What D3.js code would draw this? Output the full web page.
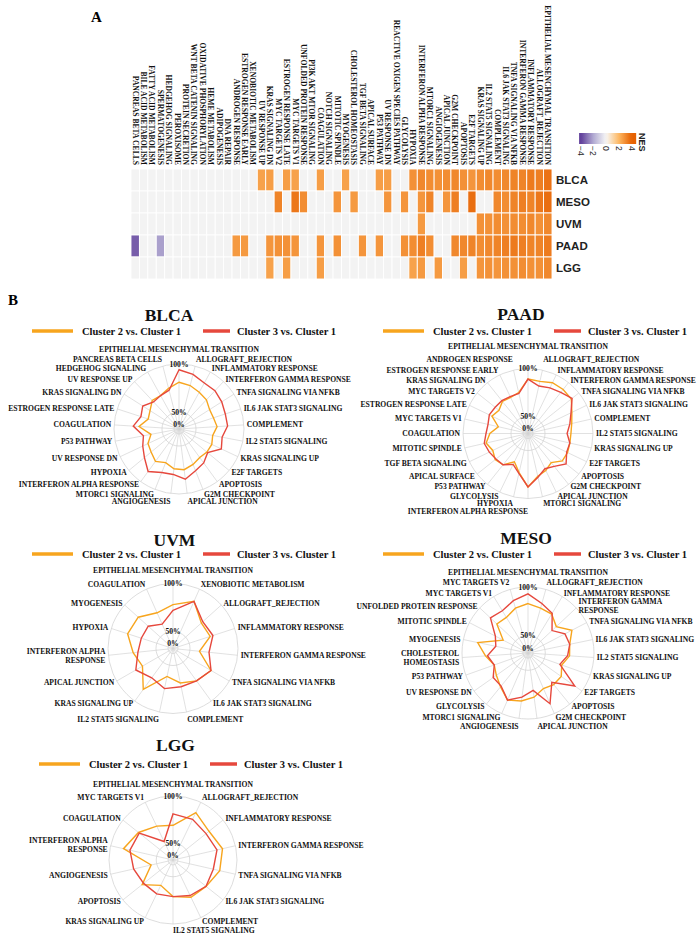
<!DOCTYPE html>
<html><head><meta charset="utf-8">
<script src="https://cdn.jsdelivr.net/npm/d3@7"></script>
<style>body{margin:0;background:#fff;} svg{display:block;}</style>
</head><body>
<svg id="chart" width="700" height="934"></svg>
<script>
// ---------------- DATA ----------------
const hallmarks = ["PANCREAS BETA CELLS","BILE ACID METABOLISM","FATTY ACID METABOLISM","SPERMATOGENESIS","HEDGEHOG SIGNALING","PEROXISOME","PROTEIN SECRETION","WNT BETA CATENIN SIGNALING","OXIDATIVE PHOSPHORYLATION","HEME METABOLISM","ADIPOGENESIS","DNA REPAIR","ANDROGEN RESPONSE","ESTROGEN RESPONSE EARLY","XENOBIOTIC METABOLISM","UV RESPONSE UP","KRAS SIGNALING DN","MYC TARGETS V2","ESTROGEN RESPONSE LATE","MYC TARGETS V1","UNFOLDED PROTEIN RESPONSE","PI3K AKT MTOR SIGNALING","COAGULATION","NOTCH SIGNALING","MITOTIC SPINDLE","MYOGENESIS","CHOLESTEROL HOMEOSTASIS","TGF BETA SIGNALING","APICAL SURFACE","P53 PATHWAY","UV RESPONSE DN","REACTIVE OXIGEN SPECIES PATHWAY","GLYCOLYSIS","HYPOXIA","INTERFERON ALPHA RESPONSE","MTORC1 SIGNALING","ANGIOGENESIS","APICAL JUNCTION","G2M CHECKPOINT","APOPTOSIS","E2F TARGETS","KRAS SIGNALING UP","IL2 STAT5 SIGNALING","COMPLEMENT","IL6 JAK STAT3 SIGNALING","TNFA SIGNALING VIA NFKB","INTERFERON GAMMA RESPONSE","INFLAMMATORY RESPONSE","ALLOGRAFT_REJECTION","EPITHELIAL MESENCHYMAL TRANSITION"];
const cancers = ["BLCA","MESO","UVM","PAAD","LGG"];
// NES per hallmark (0 = not significant, drawn grey)
const nesBLCA = [0,0,0,0,0, 0,0,0,0,0, 0,0,0,0,0, 2.5,2.6,0,2.6,2.5, 0,0,2.6,0,0, 2.5,0,0,0,2.6, 2.6,0,0,2.9,3.1, 3.0,2.9,3.0,3.1,2.9, 2.8,3.0,3.1,3.0,3.1, 3.2,3.2,3.4,3.3,3.6];
const nesMESO = [0,0,0,0,0, 0,0,0,0,0, 0,0,0,0,0, 0,0,3.2,0,3.5, 3.0,0,0,0,2.8, 0,2.7,0,0,0, 2.8,0,2.8,0,2.8, 3.2,0,2.8,3.3,0, 3.7,0,0,3.1,3.0, 3.2,3.3,3.2,3.5,3.7];
const nesUVM  = [0,0,0,0,0, 0,0,0,0,0, 0,0,0,0,0, 0,0,0,0,0, 0,0,0,0,0, 0,0,0,0,0, 0,0,0,0,2.7, 0,0,0,0,0, 0,2.9,2.9,3.0,2.9, 3.0,3.0,3.1,2.9,3.1];
const nesPAAD = [-3.4,0,0,-2.2,0, 0,0,0,0,0, 0,0,2.7,2.7,0, 0,2.8,2.9,2.9,2.8, 0,0,2.8,0,2.9, 0,0,2.8,0,2.8, 0,0,2.9,3.0,3.3, 3.0,0,0,3.1,3.1, 3.2,3.0,3.1,3.2,3.3, 3.4,3.3,3.2,3.2,3.4];
const nesLGG  = [0,0,0,0,0, 0,0,0,0,0, 0,0,0,0,0, 0,2.5,0,2.6,0, 0,0,2.6,0,0, 0,0,0,0,0, 0,0,0,2.5,2.7, 0,2.7,0,0,2.6, 0,2.8,2.9,2.8,2.9, 2.9,3.0,2.9,2.9,3.1];
const nesTicks = [-4,-2,0,2,4];

const gridVals = [0,50,100];
const gridLabels = ["0%","50%","100%"];
const seriesNames = ["Cluster 2 vs. Cluster 1","Cluster 3 vs. Cluster 1"];

const blcaAxes = ["EPITHELIAL MESENCHYMAL TRANSITION","ALLOGRAFT_REJECTION","INFLAMMATORY RESPONSE","INTERFERON GAMMA RESPONSE","TNFA SIGNALING VIA NFKB","IL6 JAK STAT3 SIGNALING","COMPLEMENT","IL2 STAT5 SIGNALING","KRAS SIGNALING UP","E2F TARGETS","APOPTOSIS","G2M CHECKPOINT","APICAL JUNCTION","ANGIOGENESIS","MTORC1 SIGNALING","INTERFERON ALPHA RESPONSE","HYPOXIA","UV RESPONSE DN","P53 PATHWAY","COAGULATION","ESTROGEN RESPONSE LATE","KRAS SIGNALING DN","UV RESPONSE UP","HEDGEHOG SIGNALING","PANCREAS BETA CELLS"];
const blcaC2 = [81,79,76,74,70,70,72,68,70,70,69,72,75,74,70,74,70,68,62,74,66,68,73,72,76];
const blcaC3 = [94,91,87,87,85,83,83,78,81,71,76,79,85,80,81,87,79,74,70,80,74,77,71,72,74];

const paadAxes = ["EPITHELIAL MESENCHYMAL TRANSITION","ALLOGRAFT_REJECTION","INFLAMMATORY RESPONSE","INTERFERON GAMMA RESPONSE","TNFA SIGNALING VIA NFKB","IL6 JAK STAT3 SIGNALING","COMPLEMENT","IL2 STAT5 SIGNALING","KRAS SIGNALING UP","E2F TARGETS","APOPTOSIS","G2M CHECKPOINT","APICAL JUNCTION","MTORC1 SIGNALING","INTERFERON ALPHA RESPONSE","HYPOXIA","GLYCOLYSIS","P53 PATHWAY","APICAL SURFACE","TGF BETA SIGNALING","MITOTIC SPINDLE","COAGULATION","MYC TARGETS V1","ESTROGEN RESPONSE LATE","MYC TARGETS V2","KRAS SIGNALING DN","ESTROGEN RESPONSE EARLY","ANDROGEN RESPONSE"];
const paadC2 = [89,88,91,91,90,83,79,77,77,78,78,71,75,78,88,74,65,74,76,73,77,72,64,74,71,75,74,76];
const paadC3 = [89,83,85,87,91,82,77,73,77,77,83,76,73,79,88,75,68,74,75,77,79,76,75,77,76,76,75,75];

const uvmAxes = ["EPITHELIAL MESENCHYMAL TRANSITION","XENOBIOTIC METABOLISM","ALLOGRAFT_REJECTION","INFLAMMATORY RESPONSE","INTERFERON GAMMA RESPONSE","TNFA SIGNALING VIA NFKB","IL6 JAK STAT3 SIGNALING","COMPLEMENT","IL2 STAT5 SIGNALING","KRAS SIGNALING UP","APICAL JUNCTION","INTERFERON ALPHA|RESPONSE","HYPOXIA","MYOGENESIS","COAGULATION"];
const uvmC2 = [78,86,72,73,60,78,74,69,62,85,69,74,82,81,73];
const uvmC3 = [72,86,74,76,70,78,74,73,75,70,77,69,67,67,60];

const mesoAxes = ["EPITHELIAL MESENCHYMAL TRANSITION","ALLOGRAFT_REJECTION","INFLAMMATORY RESPONSE","INTERFERON GAMMA|RESPONSE","TNFA SIGNALING VIA NFKB","IL6 JAK STAT3 SIGNALING","IL2 STAT5 SIGNALING","KRAS SIGNALING UP","E2F TARGETS","APOPTOSIS","G2M CHECKPOINT","APICAL JUNCTION","ANGIOGENESIS","MTORC1 SIGNALING","GLYCOLYSIS","UV RESPONSE DN","P53 PATHWAY","CHOLESTEROL|HOMEOSTASIS","MYOGENESIS","MITOTIC SPINDLE","UNFOLDED PROTEIN RESPONSE","MYC TARGETS V1","MYC TARGETS V2"];
const mesoC2 = [83,80,79,72,83,76,75,69,74,74,72,78,82,85,77,72,69,76,85,61,76,75,80];
const mesoC3 = [93,85,80,66,75,76,73,67,91,71,89,71,78,85,76,76,69,74,66,70,85,83,88];

const lggAxes = ["EPITHELIAL MESENCHYMAL TRANSITION","ALLOGRAFT_REJECTION","INFLAMMATORY RESPONSE","INTERFERON GAMMA RESPONSE","TNFA SIGNALING VIA NFKB","IL6 JAK STAT3 SIGNALING","COMPLEMENT","IL2 STAT5 SIGNALING","KRAS SIGNALING UP","APOPTOSIS","ANGIOGENESIS","INTERFERON ALPHA|RESPONSE","COAGULATION","MYC TARGETS V1"];
const lggC2 = [69,88,81,86,83,77,76,71,62,74,56,86,79,72];
const lggC3 = [81,80,77,80,76,77,74,71,72,72,75,79,78,54];

// ---------------- STYLE / LAYOUT ----------------
const serif = "'Liberation Serif','Times New Roman',serif";
const sans = "'Liberation Sans',Arial,sans-serif";
const nesColors = ["#5e3c99","#b2abd2","#f7f7f7","#fdb863","#e66101"];
const greyCell = "#f3f3f3";
const seriesColors = ["#F7A51E","#E6483D"];

const svg = d3.select("#chart");

// panel labels
svg.append("text").attr("x",91).attr("y",22).text("A")
  .attr("font-family",serif).attr("font-weight","bold").attr("font-size",15);
svg.append("text").attr("x",8).attr("y",305).text("B")
  .attr("font-family",serif).attr("font-weight","bold").attr("font-size",15);

// ---------------- HEATMAP ----------------
const nesRows = {BLCA:nesBLCA, MESO:nesMESO, UVM:nesUVM, PAAD:nesPAAD, LGG:nesLGG};
const hx = d3.scaleBand().domain(d3.range(hallmarks.length)).range([131,552]);
const hy = d3.scaleBand().domain(cancers).range([169,279]);
const nesColor = d3.scaleLinear().domain(nesTicks).range(nesColors).clamp(true);

const hm = svg.append("g");
cancers.forEach(c => {
  hm.append("g").selectAll("rect").data(nesRows[c]).join("rect")
    .attr("x",(d,i)=>hx(i)).attr("y",hy(c))
    .attr("width",hx.bandwidth()).attr("height",hy.bandwidth())
    .attr("fill",d=> d===0 ? greyCell : nesColor(d))
    .attr("stroke","#ffffff").attr("stroke-width",0.9);
});
hm.append("g").selectAll("text").data(hallmarks).join("text")
  .attr("transform",(d,i)=>`translate(${hx(i)+hx.bandwidth()/2},165) rotate(90)`)
  .attr("text-anchor","end").attr("dy","0.35em")
  .attr("font-family",serif).attr("font-weight","bold").attr("font-size",7.6)
  .attr("fill","#111").text(d=>d);
hm.append("g").selectAll("text").data(cancers).join("text")
  .attr("x",556).attr("y",d=>hy(d)+hy.bandwidth()/2).attr("dy","0.36em")
  .attr("font-family",sans).attr("font-weight","bold").attr("font-size",11.5)
  .attr("fill","#222").text(d=>d);

// colour legend (rotated)
const lgScale = d3.scaleLinear().domain([-4,4]).range([580.7,631.7]);
const defs = svg.append("defs");
const grad = defs.append("linearGradient").attr("id","nesgrad").attr("x1","0%").attr("x2","100%");
const barLo = -4.25, barHi = 4.7;
d3.range(0,1.0001,0.05).forEach(t=>{
  const v = barLo + t*(barHi-barLo);
  grad.append("stop").attr("offset",(t*100)+"%").attr("stop-color",nesColor(v));
});
svg.append("rect").attr("x",lgScale(barLo)).attr("y",133)
  .attr("width",lgScale(barHi)-lgScale(barLo)).attr("height",11).attr("fill","url(#nesgrad)");
svg.append("g").selectAll("text").data(nesTicks).join("text")
  .attr("transform",d=>`translate(${lgScale(d)},146) rotate(90)`)
  .attr("text-anchor","start").attr("dy","0.35em")
  .attr("font-family",sans).attr("font-size",8.5).attr("fill","#222")
  .text(d=> d<0 ? "\u2212"+Math.abs(d) : String(d));
svg.append("text").attr("transform","translate(642.5,133) rotate(90)")
  .attr("text-anchor","start").attr("dy","0.35em")
  .attr("font-family",sans).attr("font-weight","bold").attr("font-size",9).attr("fill","#222")
  .text("NES");

// ---------------- RADAR CHARTS ----------------
const charts = [
  {name:"BLCA", axes:blcaAxes, s:[blcaC2,blcaC3], cx:179, cy:429, R:65, tx:169, ty:315, ly:331, lx:32, bottom:"middle", topX:12, nearTop:6, botX:6},
  {name:"PAAD", axes:paadAxes, s:[paadC2,paadC3], cx:528, cy:433.5, R:65, tx:521, ty:314, ly:331, lx:383, bottom:"end", topX:19, nearTop:12, botX:10},
  {name:"UVM",  axes:uvmAxes,  s:[uvmC2,uvmC3],   cx:173, cy:648.5, R:65, tx:174.5, ty:540, ly:554, lx:32, bottom:"middle", topX:10, nearTop:8, botX:6},
  {name:"MESO", axes:mesoAxes, s:[mesoC2,mesoC3], cx:528, cy:653, R:66, tx:526, ty:538, ly:554, lx:383, bottom:"middle", topX:12, nearTop:8, botX:6},
  {name:"LGG",  axes:lggAxes,  s:[lggC2,lggC3],   cx:173, cy:860, R:64, tx:175.5, ty:745, ly:764, lx:39, bottom:"start", topX:9, nearTop:12, botX:3}
];

charts.forEach(ch => {
  // title
  svg.append("text").attr("x",ch.tx).attr("y",ch.ty).attr("dy","0.35em")
    .attr("text-anchor","middle").attr("font-family",serif).attr("font-weight","bold")
    .attr("font-size",17.5).attr("fill","#111").text(ch.name);
  // legend
  const lg = svg.append("g");
  [[0,41,50],[171,198,205]].forEach((p,k)=>{
    lg.append("line").attr("x1",ch.lx+p[0]).attr("x2",ch.lx+p[1]).attr("y1",ch.ly).attr("y2",ch.ly)
      .attr("stroke",seriesColors[k]).attr("stroke-width",3.5);
    lg.append("text").attr("x",ch.lx+p[2]).attr("y",ch.ly).attr("dy","0.35em")
      .attr("font-family",serif).attr("font-weight","bold").attr("font-size",10.5)
      .attr("fill","#111").text(seriesNames[k]);
  });

  const g = svg.append("g").attr("transform",`translate(${ch.cx},${ch.cy})`);
  const n = ch.axes.length;
  const ang = d3.scaleLinear().domain([0,n]).range([0,2*Math.PI]);
  const r = d3.scaleLinear().domain(gridVals).range([ch.R*0.077, ch.R*0.262, ch.R]);

  g.selectAll("circle").data(gridVals).join("circle")
    .attr("r",d=>r(d)).attr("fill","none").attr("stroke","#d4d4d4").attr("stroke-width",0.8);
  g.append("g").selectAll("line").data(ch.axes).join("line")
    .attr("x1",0).attr("y1",0)
    .attr("x2",(d,i)=>ch.R*Math.sin(ang(i))).attr("y2",(d,i)=>-ch.R*Math.cos(ang(i)))
    .attr("stroke","#d4d4d4").attr("stroke-width",0.7);

  const line = d3.lineRadial().angle((d,i)=>ang(i)).radius(d=>r(d)).curve(d3.curveLinearClosed);
  ch.s.forEach((vals,k)=>{
    g.append("path").attr("d",line(vals)).attr("fill","none")
      .attr("stroke",seriesColors[k]).attr("stroke-width",1.4).attr("stroke-linejoin","miter");
  });

  // grid labels
  g.append("g").selectAll("text").data(gridVals).join("text")
    .attr("x",0).attr("y",d=>-r(d)).attr("dy","0.35em").attr("text-anchor","middle")
    .attr("font-family",serif).attr("font-weight","bold").attr("font-size",7.6).attr("fill","#111")
    .text((d,i)=>gridLabels[i]);

  // axis labels
  const lr = ch.R + 3;
  ch.axes.forEach((name,i)=>{
    const t = ang(i), s = Math.sin(t), c = Math.cos(t);
    let x = lr*s, y = -lr*c;
    if (Math.abs(s) < 0.02) y += (c > 0 ? -ch.topX : ch.botX);
    else if (c > 0) y -= ch.nearTop*Math.pow(c,16);
    else y += 6*Math.pow(-c,16);
    const anchor = s > 0.02 ? "start" : (s < -0.02 ? "end" : (c > 0 ? "middle" : ch.bottom));
    const lines = name.split("|");
    const txt = g.append("text").attr("text-anchor",anchor)
      .attr("font-family",serif).attr("font-weight","bold").attr("font-size",7.6).attr("fill","#111");
    lines.forEach((ln,j)=>{
      txt.append("tspan").attr("x",x).attr("y",y + (j-(lines.length-1)/2)*9.3).attr("dy","0.35em").text(ln);
    });
  });
});
</script>
</body></html>
